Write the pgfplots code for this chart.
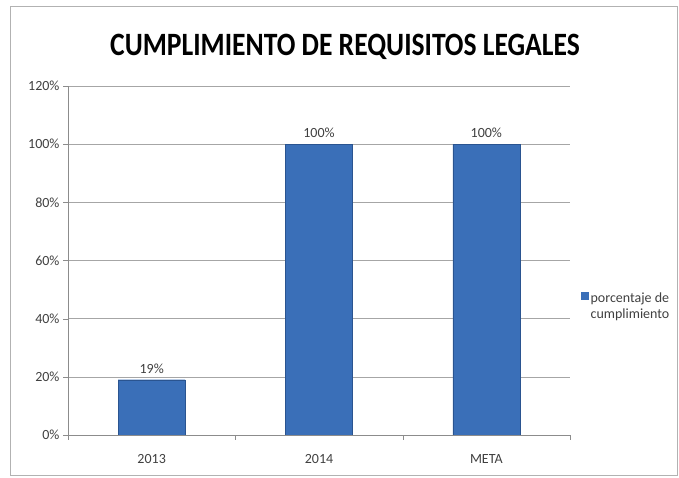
\documentclass[border=0pt]{standalone}
\usepackage{pgfplots}
\pgfplotsset{compat=1.18}
\usepackage{fontspec}
\setmainfont{Carlito}
\definecolor{barmid}{HTML}{3A6FB8}
\definecolor{bardark}{HTML}{2A5490}
\definecolor{axgray}{HTML}{8C8C8C}
\definecolor{gridgray}{HTML}{A6A6A6}
\definecolor{txtgray}{HTML}{404040}
\begin{document}
\begin{tikzpicture}
\useasboundingbox (0pt,0pt) rectangle (679pt,478pt);
\draw[gray!60, line width=1pt] (10pt,2pt) rectangle (677pt,471pt);
\node[font=\bfseries\fontsize{27.6}{32}\selectfont, text=black] at (345pt,431pt)
  {\scalebox{1}[1.18]{CUMPLIMIENTO DE REQUISITOS LEGALES}};
\begin{axis}[
  at={(68pt,43pt)}, anchor=south west,
  scale only axis, width=502pt, height=349pt,
  ymin=0, ymax=120, ytick={0,20,...,120},
  yticklabel={\pgfmathprintnumber{\tick}\%},
  /pgf/number format/assume math mode=true,
  xmin=-0.5, xmax=2.5,
  xtick={-0.5,0.5,1.5,2.5}, xticklabels={},
  extra x ticks={0,1,2}, extra x tick labels={2013,2014,META},
  extra x tick style={major tick length=0pt},
  axis x line*=bottom, axis y line*=left,
  axis line style={axgray},
  tick align=outside, major tick length=5pt,
  tick style={axgray},
  ymajorgrids, grid style={gridgray},
  ticklabel style={font=\fontsize{14}{16}\selectfont, text=txtgray},
  xticklabel style={yshift=-16pt},
  ybar, bar width=67pt,
  nodes near coords={\pgfmathprintnumber{\pgfplotspointmeta}\%},
  every node near coord/.append style={font=\fontsize{14}{16}\selectfont, text=txtgray, yshift=3pt},
  legend style={at={(1,0.393)}, anchor=west, draw=none, fill=none,
    font=\fontsize{14}{16}\selectfont, text=txtgray, xshift=8pt},
  legend image code/.code={\fill[barmid] (0pt,-1pt) rectangle (7pt,6pt);},
]
\addplot[draw=bardark, fill=barmid]
  coordinates {(0,19) (1,100) (2,100)};
\addlegendentry{\begin{tabular}[t]{@{}l@{}}porcentaje de\\cumplimiento\end{tabular}}
\end{axis}
\end{tikzpicture}
\end{document}
